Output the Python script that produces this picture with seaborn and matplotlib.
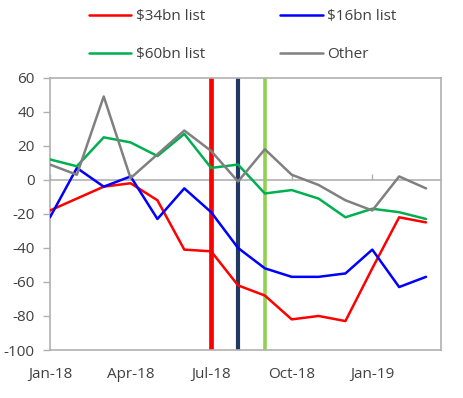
import numpy as np
import pandas as pd
import seaborn as sns
import matplotlib.pyplot as plt

# ========== DATA ==========
months = ['Jan-18', 'Feb-18', 'Mar-18', 'Apr-18', 'May-18', 'Jun-18', 'Jul-18',
          'Aug-18', 'Sep-18', 'Oct-18', 'Nov-18', 'Dec-18', 'Jan-19', 'Feb-19', 'Mar-19']
list34 = [-18, -11, -4, -2, -12, -41, -42, -62, -68, -82, -80, -83, -52, -22, -25]
list16 = [-22, 7, -4, 2, -23, -5, -19, -40, -52, -57, -57, -55, -41, -63, -57]
list60 = [12, 8, 25, 22, 14, 27, 7, 9, -8, -6, -11, -22, -17, -19, -23]
other = [9, 3, 49, 1, 15, 29, 17, -1, 18, 3, -3, -12, -18, 2, -5]

series_names = ['$34bn list', '$16bn list', '$60bn list', 'Other']
series_colors = ['#ff0000', '#0000ff', '#00b050', '#808080']

# tariff list dates (vertical markers)
event_months = ['Jul-18', 'Aug-18', 'Sep-18']
event_colors = ['#ff0000', '#1f3864', '#92d050']
event_widths = [3.4, 3.0, 2.6]

tick_months = ['Jan-18', 'Apr-18', 'Jul-18', 'Oct-18', 'Jan-19']

# ========== DATAFRAME ==========
idx = np.arange(len(months))
df = pd.DataFrame({
    'month': np.tile(idx, 4),
    'value': list34 + list16 + list60 + other,
    'series': np.repeat(series_names, len(months)),
})

# ========== PLOT ==========
sns.set_style('white')
plt.rcParams['font.family'] = ['Open Sans', 'DejaVu Sans']
plt.rcParams['text.parse_math'] = False
plt.rcParams['axes.unicode_minus'] = False

fig = plt.figure(figsize=(4.63, 3.98), dpi=100)
ax = fig.add_axes([0.108, 0.1206, 0.844, 0.684])

for m, c, w in zip(event_months, event_colors, event_widths):
    ax.axvline(months.index(m), color=c, lw=w, zorder=1)

sns.lineplot(data=df, x='month', y='value', hue='series', hue_order=series_names,
             palette=series_colors, linewidth=1.8, ax=ax, zorder=3, legend=True)

ax.set_xlim(0, 14.55)
ax.set_ylim(-100, 60)
ax.set_yticks(range(-100, 61, 20))
ax.set_xticks([months.index(m) for m in tick_months])
ax.set_xticklabels(tick_months)
ax.set_xlabel('')
ax.set_ylabel('')

spine_col = '#b0b0b0'
for s in ax.spines.values():
    s.set_color(spine_col)
    s.set_linewidth(1.2)

ax.tick_params(axis='y', length=5, width=1.0, color=spine_col, pad=6,
               labelsize=11, labelcolor='#404040', left=True)
ax.tick_params(axis='x', length=0, pad=12, labelsize=11, labelcolor='#404040')

# category axis crossing at zero
sec = ax.secondary_xaxis(0.625)
sec.set_xticks([months.index(m) for m in tick_months])
sec.set_xticklabels([])
sec.tick_params(direction='out', length=4, color=spine_col, width=1.0)
for s in sec.spines.values():
    s.set_color(spine_col)
    s.set_linewidth(1.2)

# legend, 2 columns, row order as reference
h, l = ax.get_legend_handles_labels()
ax.get_legend().remove()
order = [0, 2, 1, 3]
fig.legend([h[i] for i in order], [l[i] for i in order], loc='center',
           bbox_to_anchor=(0.524, 0.911), ncol=2, frameon=False, fontsize=11,
           handlelength=2.8, handletextpad=0.3, columnspacing=4.9,
           labelspacing=1.5, borderpad=0, labelcolor='#404040')

plt.savefig('out.png', dpi=100)
